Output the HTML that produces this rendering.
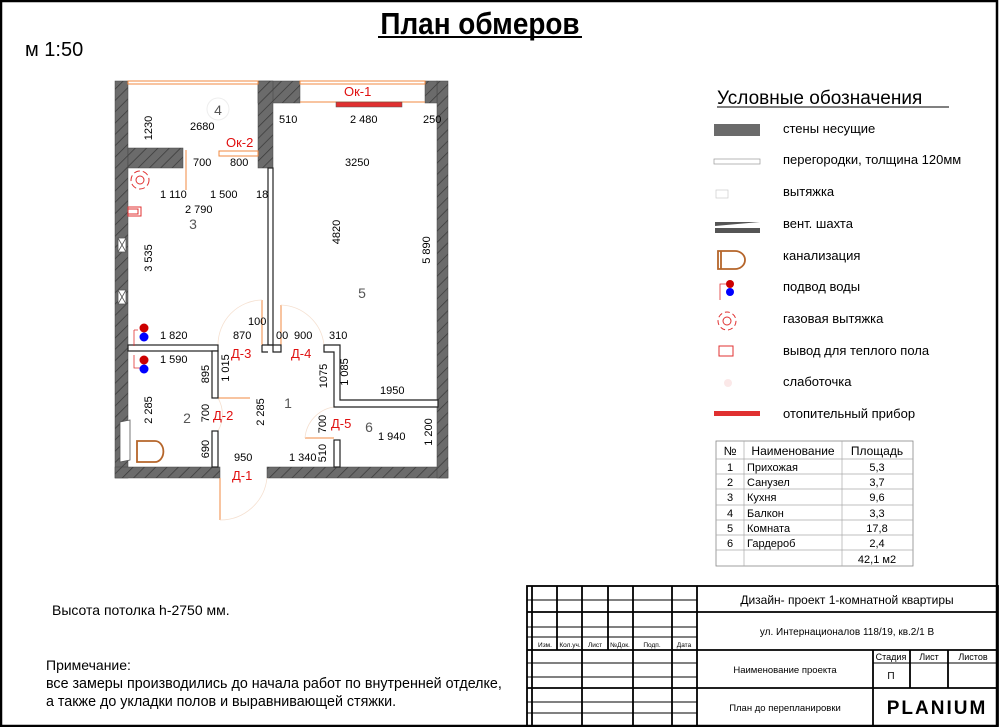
<!DOCTYPE html>
<html><head><meta charset="utf-8">
<style>
html,body{margin:0;padding:0;background:#fff;}
svg{display:block;font-family:"Liberation Sans","DejaVu Sans",sans-serif;}
</style></head>
<body>
<svg width="1000" height="727" viewBox="0 0 1000 727" xmlns="http://www.w3.org/2000/svg">
<defs>
<pattern id="h" width="8" height="8" patternUnits="userSpaceOnUse" patternTransform="rotate(45)">
<rect width="8" height="8" fill="#6b6b6b"/><line x1="0" y1="0" x2="0" y2="8" stroke="#3a3a3a" stroke-width="1.5"/>
</pattern>
</defs>
<!-- frame -->
<rect x="1" y="1" width="996" height="725" fill="none" stroke="#000" stroke-width="2.5"/>
<text x="480" y="34" font-size="31" font-weight="bold" text-anchor="middle" transform="translate(480 0) scale(0.9 1) translate(-480 0)">План обмеров</text>
<line x1="378" y1="37" x2="582" y2="37" stroke="#000" stroke-width="2"/>
<text x="25" y="56" font-size="20">м 1:50</text>

<!-- walls -->
<g fill="url(#h)" stroke="#444" stroke-width="0.5">
<rect x="115" y="81" width="13" height="397"/>
<rect x="115" y="467" width="105" height="11"/>
<rect x="267" y="467" width="181" height="11"/>
<rect x="437" y="81" width="11" height="397"/>
<rect x="128" y="148" width="55" height="20"/>
<rect x="258" y="81" width="42" height="22"/>
<rect x="258" y="81" width="15" height="87"/>
<rect x="425" y="81" width="12" height="22"/>
</g>
<!-- windows -->
<g fill="none" stroke="#f08a40" stroke-width="1">
<rect x="128" y="81" width="130" height="3"/>
<rect x="300" y="81" width="125" height="3"/>
<line x1="300" y1="102" x2="425" y2="102"/>
<rect x="219" y="151" width="39" height="5"/>
<line x1="186" y1="150" x2="186" y2="190"/>
<line x1="220" y1="478" x2="220" y2="520"/>
<line x1="262" y1="300" x2="262" y2="345"/>
<line x1="281" y1="305" x2="281" y2="345"/>
<line x1="218" y1="398" x2="250" y2="398"/>
<line x1="305" y1="438" x2="334" y2="438"/>
</g>
<g fill="none" stroke="#f5e0d0" stroke-width="0.8">
<path d="M220 520 A47 47 0 0 0 267 478"/>
<path d="M262 300 A45 45 0 0 0 218 345"/>
<path d="M281 305 A45 45 0 0 1 324 345"/>
<path d="M218 398 A33 33 0 0 1 218 431"/>
<path d="M305 438 A34 34 0 0 1 334 407"/>
</g>
<rect x="336" y="102" width="66" height="5" fill="#e03030" stroke="#555" stroke-width="0.5"/>
<!-- partitions -->
<g fill="#fff" stroke="#222" stroke-width="1.2">
<rect x="268" y="168" width="5" height="177"/>
<path d="M262 345 H281 V352 H273 V345 M262 345 V352 H268"/>
<rect x="128" y="345" width="90" height="6"/>
<rect x="212" y="351" width="6" height="47"/>
<rect x="212" y="431" width="6" height="36"/>
<path d="M324 345 H340 V400 H438 V407 H334 V352 H324 Z"/>
<rect x="334" y="440" width="6" height="27"/>
</g>
<!-- fixtures -->
<g fill="none" stroke="#e03030" stroke-width="1">
<circle cx="140" cy="180" r="4"/><circle cx="140" cy="180" r="9" stroke-dasharray="6 3"/>
<rect x="128" y="207" width="13" height="9"/><rect x="128" y="209" width="10" height="5"/>
<path d="M134 330 H138 M134 330 V346 M134 355 V368 H140" stroke-width="0.8"/>
</g>
<g fill="#fff" stroke="#555" stroke-width="0.8">
<rect x="118" y="238" width="8" height="14"/><path d="M118 238 L126 252 M126 238 L118 252"/>
<rect x="118" y="290" width="8" height="14"/><path d="M118 290 L126 304 M126 290 L118 304"/>
<path d="M120 422 L130 420 L130 460 L120 462 Z"/>
</g>
<circle cx="144" cy="328" r="4.5" fill="#c00"/><circle cx="144" cy="337" r="4.5" fill="#00f"/>
<circle cx="144" cy="360" r="4.5" fill="#c00"/><circle cx="144" cy="369" r="4.5" fill="#00f"/>
<path d="M137 441 H155 A8 10 0 0 1 155 462 H137 Z" fill="none" stroke="#b5652a" stroke-width="1.8"/>
<!-- room numbers -->
<g font-size="14" fill="#555" text-anchor="middle">
<circle cx="218" cy="109" r="11" fill="none" stroke="#eee"/><text x="218" y="115">4</text>
<text x="193" y="229">3</text><text x="362" y="298">5</text>
<text x="187" y="423">2</text><text x="288" y="408">1</text><text x="369" y="432">6</text>
</g>
<!-- dimensions -->
<g font-size="11" fill="#000">
<text x="190" y="130">2680</text>
<text x="152" y="128" transform="rotate(-90 152 128)" text-anchor="middle">1230</text>
<text x="193" y="166">700</text><text x="230" y="166">800</text>
<text x="160" y="198">1 110</text><text x="210" y="198">1 500</text><text x="256" y="198">18</text>
<text x="185" y="213">2 790</text>
<text x="152" y="258" transform="rotate(-90 152 258)" text-anchor="middle">3 535</text>
<text x="279" y="123">510</text><text x="350" y="123">2 480</text><text x="423" y="123">250</text>
<text x="345" y="166">3250</text>
<text x="340" y="232" transform="rotate(-90 340 232)" text-anchor="middle">4820</text>
<text x="430" y="250" transform="rotate(-90 430 250)" text-anchor="middle">5 890</text>
<text x="248" y="325">100</text>
<text x="160" y="339">1 820</text><text x="233" y="339">870</text>
<text x="276" y="339">00</text><text x="294" y="339">900</text><text x="329" y="339">310</text>
<text x="160" y="363">1 590</text>
<text x="209" y="374" transform="rotate(-90 209 374)" text-anchor="middle">895</text>
<text x="229" y="368" transform="rotate(-90 229 368)" text-anchor="middle">1 015</text>
<text x="327" y="376" transform="rotate(-90 327 376)" text-anchor="middle">1075</text>
<text x="348" y="372" transform="rotate(-90 348 372)" text-anchor="middle">1 085</text>
<text x="380" y="394">1950</text>
<text x="152" y="410" transform="rotate(-90 152 410)" text-anchor="middle">2 285</text>
<text x="209" y="413" transform="rotate(-90 209 413)" text-anchor="middle">700</text>
<text x="264" y="412" transform="rotate(-90 264 412)" text-anchor="middle">2 285</text>
<text x="326" y="424" transform="rotate(-90 326 424)" text-anchor="middle">700</text>
<text x="378" y="440">1 940</text>
<text x="432" y="432" transform="rotate(-90 432 432)" text-anchor="middle">1 200</text>
<text x="209" y="449" transform="rotate(-90 209 449)" text-anchor="middle">690</text>
<text x="234" y="461">950</text><text x="289" y="461">1 340</text>
<text x="326" y="453" transform="rotate(-90 326 453)" text-anchor="middle">510</text>
</g>
<g font-size="13" fill="#e01010">
<text x="344" y="96">Ок-1</text><text x="226" y="147">Ок-2</text>
<text x="231" y="358">Д-3</text><text x="291" y="358">Д-4</text>
<text x="213" y="420">Д-2</text><text x="331" y="428">Д-5</text><text x="232" y="480">Д-1</text>
</g>

<!-- legend -->
<text x="717" y="104" font-size="19">Условные обозначения</text>
<line x1="717" y1="107" x2="949" y2="107" stroke="#000" stroke-width="1"/>
<g font-size="13">
<text x="783" y="133">стены несущие</text>
<text x="783" y="164">перегородки, толщина 120мм</text>
<text x="783" y="196">вытяжка</text>
<text x="783" y="228">вент. шахта</text>
<text x="783" y="260">канализация</text>
<text x="783" y="291">подвод воды</text>
<text x="783" y="323">газовая вытяжка</text>
<text x="783" y="355">вывод для теплого пола</text>
<text x="783" y="386">слаботочка</text>
<text x="783" y="418">отопительный прибор</text>
</g>
<rect x="714" y="124" width="46" height="12" fill="#6b6b6b"/>
<rect x="714" y="159" width="46" height="5" fill="#fff" stroke="#999" stroke-width="0.7"/>
<rect x="716" y="190" width="12" height="8" fill="none" stroke="#ccc" stroke-width="0.7"/>
<path d="M715 222 H760 L715 226 Z M715 228 H760 V233 H715 Z" fill="#555"/>
<path d="M718 251 H735 A10 9 0 0 1 735 269 H718 Z M721 251 V269" fill="none" stroke="#b5652a" stroke-width="1.8"/>
<circle cx="730" cy="284" r="4" fill="#c00"/><circle cx="730" cy="292" r="4" fill="#00f"/>
<path d="M726 284 H720 V300" fill="none" stroke="#e03030" stroke-width="0.8"/>
<circle cx="727" cy="321" r="4" fill="none" stroke="#e03030"/><circle cx="727" cy="321" r="9" fill="none" stroke="#e03030" stroke-dasharray="5 3"/>
<rect x="719" y="346" width="14" height="10" fill="none" stroke="#e03030"/>
<circle cx="728" cy="383" r="4" fill="#fbe8e8"/>
<rect x="714" y="411" width="46" height="5" fill="#e03030"/>

<!-- table -->
<g font-size="11" text-anchor="middle">
<rect x="716" y="441" width="197" height="125" fill="none" stroke="#888" stroke-width="0.8"/>
<g stroke="#aaa" stroke-width="0.7">
<line x1="716" y1="459" x2="913" y2="459"/><line x1="716" y1="474" x2="913" y2="474"/>
<line x1="716" y1="489" x2="913" y2="489"/><line x1="716" y1="505" x2="913" y2="505"/>
<line x1="716" y1="520" x2="913" y2="520"/><line x1="716" y1="535" x2="913" y2="535"/>
<line x1="716" y1="550" x2="913" y2="550"/>
<line x1="744" y1="441" x2="744" y2="566"/><line x1="842" y1="441" x2="842" y2="566"/>
</g>
<text x="730" y="455" font-size="12">№</text><text x="793" y="455" font-size="12">Наименование</text><text x="877" y="455" font-size="12">Площадь</text>
<text x="730" y="471">1</text><text x="730" y="486">2</text><text x="730" y="501">3</text><text x="730" y="517">4</text><text x="730" y="532">5</text><text x="730" y="547">6</text>
<g text-anchor="start"><text x="747" y="471">Прихожая</text><text x="747" y="486">Санузел</text><text x="747" y="501">Кухня</text><text x="747" y="517">Балкон</text><text x="747" y="532">Комната</text><text x="747" y="547">Гардероб</text></g>
<text x="877" y="471">5,3</text><text x="877" y="486">3,7</text><text x="877" y="501">9,6</text><text x="877" y="517">3,3</text><text x="877" y="532">17,8</text><text x="877" y="547">2,4</text><text x="877" y="563">42,1 м2</text>
</g>

<!-- notes -->
<text x="52" y="615" font-size="14">Высота потолка h-2750 мм.</text>
<text x="46" y="670" font-size="14">Примечание:</text>
<text x="46" y="688" font-size="14.3">все замеры производились до начала работ по внутренней отделке,</text>
<text x="46" y="706" font-size="14.3">а также до укладки полов и выравнивающей стяжки.</text>

<!-- title block -->
<g stroke="#000" stroke-width="1.8" fill="none">
<rect x="527" y="586" width="471" height="140"/>
<line x1="697" y1="586" x2="697" y2="726"/>
<line x1="532" y1="586" x2="532" y2="726"/>
<line x1="527" y1="600" x2="697" y2="600" stroke-width="1"/>
<line x1="527" y1="612" x2="998" y2="612"/>
<line x1="527" y1="627" x2="697" y2="627" stroke-width="1"/>
<line x1="527" y1="637" x2="697" y2="637" stroke-width="1"/>
<line x1="527" y1="650" x2="998" y2="650"/>
<line x1="527" y1="663" x2="697" y2="663" stroke-width="1"/>
<line x1="527" y1="677" x2="697" y2="677" stroke-width="1"/>
<line x1="527" y1="688" x2="998" y2="688"/>
<line x1="527" y1="702" x2="697" y2="702" stroke-width="1"/>
<line x1="527" y1="713" x2="697" y2="713" stroke-width="1"/>
<line x1="557" y1="586" x2="557" y2="650"/>
<line x1="582" y1="586" x2="582" y2="726"/>
<line x1="608" y1="586" x2="608" y2="650"/>
<line x1="633" y1="586" x2="633" y2="726"/>
<line x1="672" y1="586" x2="672" y2="726"/>
<line x1="873" y1="650" x2="873" y2="726"/>
<line x1="910" y1="650" x2="910" y2="688"/>
<line x1="948" y1="650" x2="948" y2="688"/>
<line x1="873" y1="663" x2="998" y2="663" stroke-width="1"/>
</g>
<g font-size="6.5" text-anchor="middle">
<text x="545" y="647">Изм.</text><text x="570" y="647">Кол.уч.</text><text x="595" y="647">Лист</text><text x="620" y="647">№Док.</text><text x="652" y="647">Подп.</text><text x="684" y="647">Дата</text>
</g>
<g text-anchor="middle">
<text x="847" y="604" font-size="12">Дизайн- проект 1-комнатной квартиры</text>
<text x="847" y="635" font-size="10">ул. Интернационалов 118/19, кв.2/1 В</text>
<text x="785" y="673" font-size="9.5">Наименование проекта</text>
<text x="785" y="711" font-size="9.5">План до перепланировки</text>
<text x="891" y="660" font-size="9">Стадия</text><text x="929" y="660" font-size="9">Лист</text><text x="973" y="660" font-size="9">Листов</text>
<text x="891" y="679" font-size="10">П</text>
<text x="937" y="714" font-size="19" font-weight="bold" letter-spacing="2">PLANIUM</text>
</g>
</svg>
</body></html>
